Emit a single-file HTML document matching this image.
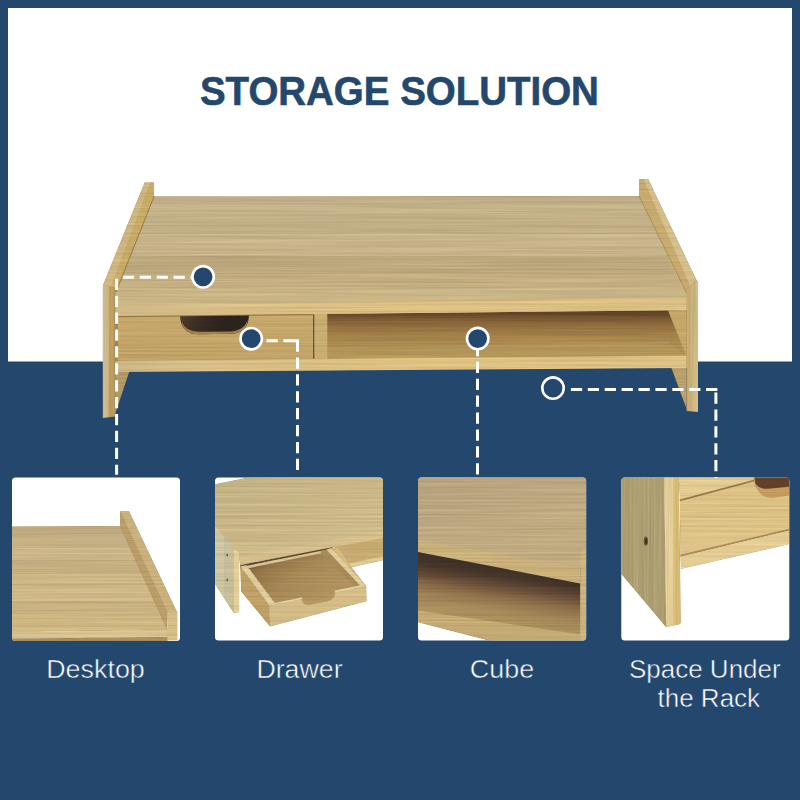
<!DOCTYPE html>
<html><head><meta charset="utf-8"><title>Storage Solution</title>
<style>
html,body{margin:0;padding:0;background:#24476e;}
body{width:800px;height:800px;overflow:hidden;position:relative;font-family:"Liberation Sans",sans-serif;}
svg{position:absolute;left:0;top:0;display:block}
.h{font-family:"Liberation Sans",sans-serif;font-weight:700;font-size:40px;fill:#24476e;stroke:#24476e;stroke-width:0.6px}
.l{font-family:"Liberation Sans",sans-serif;font-weight:400;font-size:26px;fill:#fff;stroke:#24476e;stroke-width:0.5px}
</style></head><body>
<svg width="800" height="800" viewBox="0 0 800 800">
<defs>
<linearGradient id="gTop" x1="0" y1="196" x2="0" y2="306" gradientUnits="userSpaceOnUse"><stop offset="0" stop-color="#c3b18a"/><stop offset="0.5" stop-color="#c3af86"/><stop offset="1" stop-color="#c8b283"/></linearGradient>
<linearGradient id="gStrip" x1="115" y1="0" x2="687" y2="0" gradientUnits="userSpaceOnUse"><stop offset="0" stop-color="#d1ba88"/><stop offset="0.5" stop-color="#dec182"/><stop offset="1" stop-color="#dcc084"/></linearGradient>
<linearGradient id="gCube" x1="0" y1="311" x2="0" y2="358" gradientUnits="userSpaceOnUse"><stop offset="0" stop-color="#5c4026"/><stop offset="0.07" stop-color="#644628"/><stop offset="0.17" stop-color="#7d5a34"/><stop offset="0.28" stop-color="#8c693c"/><stop offset="0.45" stop-color="#9e7a46"/><stop offset="0.62" stop-color="#a8874e"/><stop offset="0.83" stop-color="#ae8f54"/><stop offset="1" stop-color="#b29458"/></linearGradient>
<linearGradient id="gHole" x1="180" y1="316" x2="215" y2="334" gradientUnits="userSpaceOnUse"><stop offset="0" stop-color="#4e3c2c"/><stop offset="0.5" stop-color="#3a2d22"/><stop offset="1" stop-color="#2c231c"/></linearGradient>
<linearGradient id="gLegL" x1="102.8" y1="0" x2="115.2" y2="0" gradientUnits="userSpaceOnUse"><stop offset="0" stop-color="#cfbb8e"/><stop offset="0.42" stop-color="#cdb88a"/><stop offset="0.5" stop-color="#bc9e62"/><stop offset="0.92" stop-color="#ba9c60"/><stop offset="1" stop-color="#967a4e"/></linearGradient>
<linearGradient id="gLegR" x1="686.6" y1="0" x2="698" y2="0" gradientUnits="userSpaceOnUse"><stop offset="0" stop-color="#c4a86e"/><stop offset="0.5" stop-color="#cdb47d"/><stop offset="1" stop-color="#d4be8c"/></linearGradient>
<linearGradient id="gDrawer" x1="0" y1="316" x2="0" y2="361" gradientUnits="userSpaceOnUse"><stop offset="0" stop-color="#c6a86c"/><stop offset="1" stop-color="#c0a266"/></linearGradient>
<linearGradient id="gT1" x1="0" y1="526" x2="0" y2="632" gradientUnits="userSpaceOnUse"><stop offset="0" stop-color="#c6b286"/><stop offset="1" stop-color="#ceb782"/></linearGradient>
<linearGradient id="gT2" x1="0" y1="0" x2="120" y2="400" gradientUnits="userSpaceOnUse"><stop offset="0" stop-color="#c4b285"/><stop offset="1" stop-color="#cdba8a"/></linearGradient>
<linearGradient id="gDrw" x1="250" y1="350" x2="420" y2="620" gradientUnits="userSpaceOnUse"><stop offset="0" stop-color="#705634"/><stop offset="0.2" stop-color="#927448"/><stop offset="0.55" stop-color="#a68856"/><stop offset="1" stop-color="#b0925e"/></linearGradient>
<linearGradient id="gT3" x1="0" y1="0" x2="80" y2="430" gradientUnits="userSpaceOnUse"><stop offset="0" stop-color="#b6a37e"/><stop offset="1" stop-color="#c1ac82"/></linearGradient>
<linearGradient id="gInt3" x1="380" y1="430" x2="330" y2="760" gradientUnits="userSpaceOnUse"><stop offset="0" stop-color="#3c3028"/><stop offset="0.12" stop-color="#46362a"/><stop offset="0.26" stop-color="#644b36"/><stop offset="0.4" stop-color="#876946"/><stop offset="0.48" stop-color="#96784e"/><stop offset="0.62" stop-color="#a58a5a"/><stop offset="0.8" stop-color="#ac915f"/><stop offset="1" stop-color="#b09662"/></linearGradient>
<linearGradient id="gLeg4" x1="0" y1="0" x2="210" y2="0" gradientUnits="userSpaceOnUse"><stop offset="0" stop-color="#aa9c6f"/><stop offset="0.5" stop-color="#b0a174"/><stop offset="1" stop-color="#ac9d70"/></linearGradient>
<linearGradient id="gLeg4f" x1="208" y1="0" x2="285" y2="0" gradientUnits="userSpaceOnUse"><stop offset="0" stop-color="#e2ce98"/><stop offset="0.5" stop-color="#e0cb94"/><stop offset="0.58" stop-color="#d8bb76"/><stop offset="1" stop-color="#d4b772"/></linearGradient>
<filter id="gh" x="0" y="0" width="1" height="1" color-interpolation-filters="sRGB">
<feTurbulence type="fractalNoise" baseFrequency="0.006 0.55" numOctaves="2" seed="7" result="n"/>
<feColorMatrix in="n" type="matrix" values="1 0 0 0 0  1 0 0 0 0  1 0 0 0 0  0 0 0 0 1" result="g"/>
<feComposite in="SourceGraphic" in2="g" operator="arithmetic" k1="0.20" k2="0.90" k3="0" k4="0"/>
</filter>
<filter id="gv" x="0" y="0" width="1" height="1" color-interpolation-filters="sRGB">
<feTurbulence type="fractalNoise" baseFrequency="0.5 0.008" numOctaves="2" seed="11" result="n"/>
<feColorMatrix in="n" type="matrix" values="1 0 0 0 0  1 0 0 0 0  1 0 0 0 0  0 0 0 0 1" result="g"/>
<feComposite in="SourceGraphic" in2="g" operator="arithmetic" k1="0.18" k2="0.91" k3="0" k4="0"/>
</filter>
<clipPath id="cTop"><polygon points="154,196.5 639,196 686.6,298 115.2,305.5 115.2,290"/></clipPath>
<clipPath id="cT1"><polygon points="12,526.6 120,526 167.5,629.4 12,632"/></clipPath>
<clipPath id="c1"><rect x="12" y="477.5" width="168" height="163.5" rx="3.5"/></clipPath>
<clipPath id="c2"><rect x="215" y="477.5" width="168" height="163" rx="3.5"/></clipPath>
<clipPath id="c3"><rect x="418" y="477.5" width="168.2" height="163" rx="3.5"/></clipPath>
<clipPath id="c4"><rect x="621.3" y="477.5" width="168" height="163" rx="3.5"/></clipPath>
</defs>
<rect width="800" height="800" fill="#24476e"/>
<rect x="8" y="8" width="784" height="353.5" fill="#fff"/>
<text class="h" x="0" y="104.6" text-anchor="middle" transform="translate(399.4 0) scale(0.962 1)">STORAGE SOLUTION</text>
<g id="main" filter="url(#gh)">
<polygon points="145,182.8 153.8,182.8 153.8,196.8 639.2,196.3 639.2,179.4 648,179.4 697.6,283 697.6,411 687,410.5 687,367.6 115.2,371.6 115.2,416 103.2,417.5 103.2,287" fill="#cbb482"/>
<polygon points="115,371 129.5,371 115.5,413 115,416" fill="#b29866"/>
<polygon points="671,367 686.6,367 686.6,409" fill="#baa06c"/>
<polygon points="327,314 687,310 687,357 327,360" fill="url(#gCube)"/>
<polygon points="327,347 668,342 687,357 327,360" fill="#b89a5e" opacity="0.5"/>
<polygon points="668,310.5 686.6,310 686.6,356.5" fill="#c4a668"/>
<polygon points="154,196.5 639,196 686.6,298 115.2,305.5 115.2,290" fill="url(#gTop)"/>
<g clip-path="url(#cTop)">
<rect x="100" y="196" width="600" height="8" fill="#96825a" opacity="0.08"/>
<rect x="100" y="204" width="600" height="10" fill="#e8d7aa" opacity="0.08"/>
<rect x="100" y="214" width="600" height="20" fill="#96825a" opacity="0.05"/>
<rect x="100" y="234" width="600" height="22" fill="#e8d7aa" opacity="0.12"/>
<rect x="100" y="256" width="600" height="18" fill="#96825a" opacity="0.16"/>
<rect x="100" y="274" width="600" height="14" fill="#96825a" opacity="0.03"/>
<rect x="100" y="288" width="600" height="18" fill="#e8d7aa" opacity="0.08"/>
</g>
<polygon points="150,182.4 154,182.4 154,196.5 116,292 110.5,287" fill="#c8aa68"/>
<polygon points="144.6,182.4 150,182.4 110.5,287 103,285" fill="#ceb680"/>
<path d="M154,196.5 L116,292" stroke="#96783e" stroke-width="1" fill="none"/>
<polygon points="639,179 643.5,179 689.5,284 686.6,293 639,196" fill="#c6aa6e"/>
<polygon points="643.5,179 648.2,179 697,281 689.5,284" fill="#d4be8a"/>
<path d="M639,196 L686.6,293" stroke="#a0844c" stroke-width="0.8" fill="none"/>
<polygon points="115.2,305.5 686.6,298.6 686.6,310.2 115.2,316" fill="url(#gStrip)"/>
<polygon points="118,316.4 313,314.4 313,358.8 118,361" fill="url(#gDrawer)"/>
<polygon points="115.2,316 118,316.4 118,361 115.2,361" fill="#a08452"/>
<polygon points="118,316 313,314 313,315.2 118,317.2" fill="#967846"/>
<polygon points="313,314.4 314.6,314.4 314.6,358.8 313,358.8" fill="#6e5430"/>
<polygon points="314.6,314.4 327.3,314.2 327.3,359 314.6,359" fill="#c8ac70"/>
<path d="M180,316.2 L249,315.4 Q248,333.6 230,333.8 L199,334.2 Q181,334.4 180,316.2 Z" fill="url(#gHole)"/>
<path d="M181.5,321 Q185,331.6 199,331.8 L230,331.4 Q244,331 247.5,320 Q247,333.4 230,333.8 L199,334.2 Q183,334.4 181.5,321 Z" fill="#a07e4c"/>
<polygon points="115.2,361 686.6,355.6 686.6,368 115.2,372" fill="url(#gStrip)"/>
</g>
<g filter="url(#gv)">
<path d="M102.8,287 Q102.8,284.5 105,285.2 L115.2,288 L115.2,416.5 L102.8,418 Z" fill="url(#gLegL)"/>
<path d="M686.6,289 L695,281.5 Q698,279.5 698,283 L698,412 L686.6,411 Z" fill="url(#gLegR)"/>
</g>
<g clip-path="url(#c1)">
<rect x="12" y="477" width="168" height="165" fill="#fff"/>
<g filter="url(#gh)">
<polygon points="12,526.6 120,526 167.5,629.4 12,632" fill="url(#gT1)"/>
<g clip-path="url(#cT1)">
<rect x="12" y="526" width="160" height="11" fill="#96825a" opacity="0.14"/>
<rect x="12" y="548" width="160" height="12" fill="#e8d7aa" opacity="0.14"/>
<rect x="12" y="560" width="160" height="14" fill="#96825a" opacity="0.08"/>
<rect x="12" y="586" width="160" height="15" fill="#e8d7aa" opacity="0.14"/>
<rect x="12" y="601" width="160" height="14" fill="#96825a" opacity="0.08"/>
</g>
<polygon points="12,631.5 167.5,629.3 167.5,637 12,638.7" fill="#d6c08e"/>
<polygon points="12,638.7 167.5,637 167.5,642 12,642" fill="#aa9264"/>
<polygon points="120,511 120,526 167,629.4 167.5,612.5" fill="#ba9e68"/>
<polygon points="120,511 129,511 177.3,612.5 167.5,612.5" fill="#cab17c"/>
<polygon points="167.5,612.5 177.3,612.5 177.3,640.3 167.5,640.3" fill="#d4bc86"/>
</g></g>
<g clip-path="url(#c2)">
<rect x="215" y="477" width="168" height="165" fill="#fff"/>
<g filter="url(#gh)"><svg x="215" y="477" width="168" height="168" viewBox="0 0 800 800">
<polygon points="560,325 800,280 800,380 640,415 600,395" fill="#c6aa70"/>
<polygon points="566,328 586,325 600,395 640,415 625,425 570,345" fill="#ba9e66"/>
<polygon points="636,412 800,377 800,396 648,431" fill="#dec894"/>
<polygon points="112,365 800,248 800,290 119,419" fill="#d4be8c"/>
<polygon points="0,35 170,0 800,0 800,258 115,379 89,345 0,230" fill="url(#gT2)"/>
<polygon points="0,226 115,375 115,383 0,236" fill="#d2c296"/>
<polygon points="0,232 45,288 45,580 0,510" fill="#cec49e"/>
<polygon points="45,288 89,345 89,648 45,580" fill="#c7bd97"/>
<path d="M89,345 L108,354 Q115,358 115,366 L115,644 L89,648 Z" fill="#e2ce96"/>
<ellipse cx="58" cy="372" rx="4" ry="7" fill="#6e5a38"/>
<ellipse cx="58" cy="490" rx="4" ry="7" fill="#6e5a38"/>
<polygon points="150,420 520,345 690,515 580,600 440,625 285,600" fill="url(#gDrw)"/>
<polygon points="120,420 560,334 560,342 150,424 122,432" fill="#60482a"/>
<polygon points="146,424 520,349 524,360 160,434" fill="#d6c496"/>
<polygon points="500,356 547,340 720,520 690,516 665,520" fill="#a88a58"/>
<polygon points="530,345 556,338 722,522 692,518" fill="#e0cc9a"/>
<polygon points="556,338 585,336 645,424 722,522" fill="#d6ba7c"/>
<polygon points="120,425 150,420 285,600 258,612" fill="#e0cc9a"/>
<polygon points="120,425 258,612 262,712 125,545" fill="#c0a066"/>
<path d="M258,612 L412,582 Q420,612 450,608 L540,590 Q570,582 572,550 L720,520 L722,592 L262,712 Z" fill="#d4bc87"/>
<path d="M258,612 L285,600 L418,573 L412,582 Z" fill="#e4d2a2"/>
<path d="M572,550 L568,542 L690,516 L720,520 Z" fill="#e4d2a2"/>
<path d="M412,582 Q420,612 450,608 L540,590 Q570,582 572,550 L568,542 Q562,570 536,577 L452,594 Q430,597 418,573 Z" fill="#b49662"/>
</svg></g></g>
<g clip-path="url(#c3)">
<rect x="418" y="477" width="169" height="165" fill="#fff"/>
<g filter="url(#gh)"><svg x="418" y="477" width="168" height="168" viewBox="0 0 800 800">
<polygon points="0,350 775,500 775,760 0,640" fill="url(#gInt3)"/>
<polygon points="0,636 775,750 775,800 420,800 0,692" fill="#c3aa73"/>
<polygon points="0,290 772,422 772,507 0,357" fill="#c9b079"/>
<polygon points="0,0 800,0 800,345 772,432 0,300" fill="url(#gT3)"/>
<path d="M772,380 Q775,345 800,338 L800,800 L772,800 Z" fill="#ccb47e"/>
</svg></g></g>
<g clip-path="url(#c4)">
<rect x="621" y="477" width="169" height="165" fill="#fff"/>
<g filter="url(#gh)"><svg x="621" y="477" width="168" height="168" viewBox="0 0 800 800">
<polygon points="275,0 800,0 800,-20 280,112" fill="#e2ca92"/>
<polygon points="280,112 800,-26 800,250 283,374" fill="#ddc286"/>
<polygon points="280,107 800,-31 800,-24 280,115" fill="#967846"/>
<path d="M630,0 L636,35 Q660,100 720,100 L800,88 L800,0 Z" fill="#c49a5e"/>
<path d="M636,0 L640,30 Q655,58 700,56 L800,46 L800,0 Z" fill="#604228"/>
<polygon points="283,376 800,252 800,320 285,438" fill="#e2ca93"/>
<polygon points="283,370 800,247 800,254 283,378" fill="#a88a56"/>
</svg></g>
<g filter="url(#gv)"><svg x="621" y="477" width="168" height="168" viewBox="0 0 800 800">
<polygon points="0,0 205,0 215,715 0,460" fill="url(#gLeg4)"/>
<path d="M205,0 L275,0 L285,690 Q285,700 275,702 L215,715 Z" fill="url(#gLeg4f)"/>
<ellipse cx="118" cy="305" rx="10" ry="22" fill="#6e5834"/>
<ellipse cx="120" cy="305" rx="6" ry="16" fill="#46341e"/>
</svg></g>
</g>
<g stroke="#fff" stroke-width="3" fill="none" stroke-dasharray="11.25 5.65">
<path d="M201.7,277.25 H120"/>
<path d="M116.6,278.75 V474.8"/>
<path d="M266.5,340.8 H296"/>
<path d="M297.5,340.5 V474.8"/>
<path d="M477.5,344.9 V474.8"/>
<path d="M570.9,389.5 H717.4"/>
<path d="M715.9,392.5 V478"/>
</g>
<rect x="294" y="339.3" width="5" height="3" fill="#fff"/>
<g fill="#24476e" stroke="#fff" stroke-width="2.6">
<circle cx="203.1" cy="276.8" r="10.7"/>
<circle cx="251.2" cy="338.7" r="10.7"/>
<circle cx="477.7" cy="338.6" r="10.7"/>
<circle cx="553" cy="388.1" r="10.7"/>
</g>
<text class="l" x="0" y="678.3" text-anchor="middle" transform="translate(95.5 0) scale(1.035 1)">Desktop</text>
<text class="l" x="0" y="678.3" text-anchor="middle" transform="translate(299.5 0) scale(1.03 1)">Drawer</text>
<text class="l" x="0" y="678.3" text-anchor="middle" transform="translate(502 0) scale(1.035 1)">Cube</text>
<text class="l" x="704.8" y="677.5" text-anchor="middle">Space Under</text>
<text class="l" x="708.8" y="706.5" text-anchor="middle">the Rack</text>
</svg>
</body></html>
